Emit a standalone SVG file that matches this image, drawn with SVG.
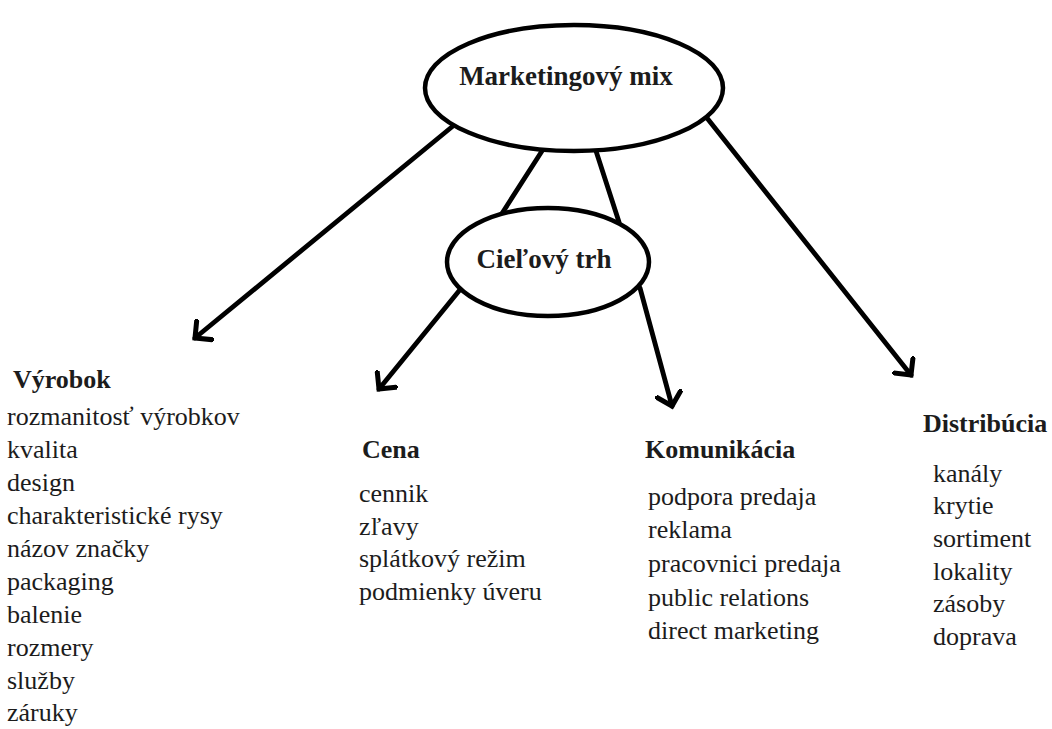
<svg xmlns="http://www.w3.org/2000/svg" width="1052" height="729" viewBox="0 0 1052 729">
<style>
.node ellipse{fill:#fff;stroke:#000;stroke-width:4.5}
.t{font-family:"Liberation Serif","Times New Roman",serif;font-size:26px;fill:#1c1c1c}
.b{font-weight:bold}
.h{font-size:27px;font-weight:bold;text-anchor:middle}
.conn line{stroke:#000;stroke-width:4.8;stroke-linecap:round}
</style>
<defs>
<marker id="arr" markerUnits="userSpaceOnUse" viewBox="-2 -2 18 28" markerWidth="18" markerHeight="28" refX="12" refY="12" orient="auto">
<path d="M0,0 L12,12 L0,24" fill="none" stroke="#000" stroke-width="5" stroke-linecap="square" stroke-linejoin="miter"/>
</marker>
</defs>
<rect width="1052" height="729" fill="#fff"/>
<g class="conn" id="connectors">
<line x1="542" y1="151" x2="501" y2="215"/>
<line x1="596" y1="151" x2="619" y2="222"/>
<line x1="453" y1="126" x2="195" y2="338" marker-end="url(#arr)"/>
<line x1="463" y1="286" x2="379" y2="389" marker-end="url(#arr)"/>
<line x1="640" y1="288" x2="672" y2="406" marker-end="url(#arr)"/>
<line x1="707" y1="118" x2="911" y2="375" marker-end="url(#arr)"/>
</g>
<g class="node" id="mix">
<ellipse cx="574" cy="88" rx="149" ry="63"/>
<text class="t h" x="566" y="85">Marketingový mix</text>
</g>
<g class="node" id="trh">
<ellipse cx="548" cy="262" rx="101" ry="54"/>
<text class="t h" x="544" y="268">Cieľový trh</text>
</g>
<g id="vyrobok">
<text class="t b" x="13" y="388">Výrobok</text>
<text class="t" x="7" y="425">rozmanitosť výrobkov</text>
<text class="t" x="7" y="458">kvalita</text>
<text class="t" x="7" y="491">design</text>
<text class="t" x="7" y="524">charakteristické rysy</text>
<text class="t" x="7" y="557">názov značky</text>
<text class="t" x="7" y="590">packaging</text>
<text class="t" x="7" y="623">balenie</text>
<text class="t" x="7" y="656">rozmery</text>
<text class="t" x="7" y="689">služby</text>
<text class="t" x="7" y="721">záruky</text>
</g>
<g id="cena">
<text class="t b" x="362" y="458">Cena</text>
<text class="t" x="359" y="502">cennik</text>
<text class="t" x="359" y="535">zľavy</text>
<text class="t" x="359" y="567">splátkový režim</text>
<text class="t" x="359" y="600">podmienky úveru</text>
</g>
<g id="komunikacia">
<text class="t b" x="645" y="458">Komunikácia</text>
<text class="t" x="648" y="505">podpora predaja</text>
<text class="t" x="648" y="538">reklama</text>
<text class="t" x="648" y="572">pracovnici predaja</text>
<text class="t" x="648" y="606">public relations</text>
<text class="t" x="648" y="639">direct marketing</text>
</g>
<g id="distribucia">
<text class="t b" x="923" y="432">Distribúcia</text>
<text class="t" x="933" y="482">kanály</text>
<text class="t" x="933" y="514">krytie</text>
<text class="t" x="933" y="547">sortiment</text>
<text class="t" x="933" y="580">lokality</text>
<text class="t" x="933" y="612">zásoby</text>
<text class="t" x="933" y="645">doprava</text>
</g>
</svg>
